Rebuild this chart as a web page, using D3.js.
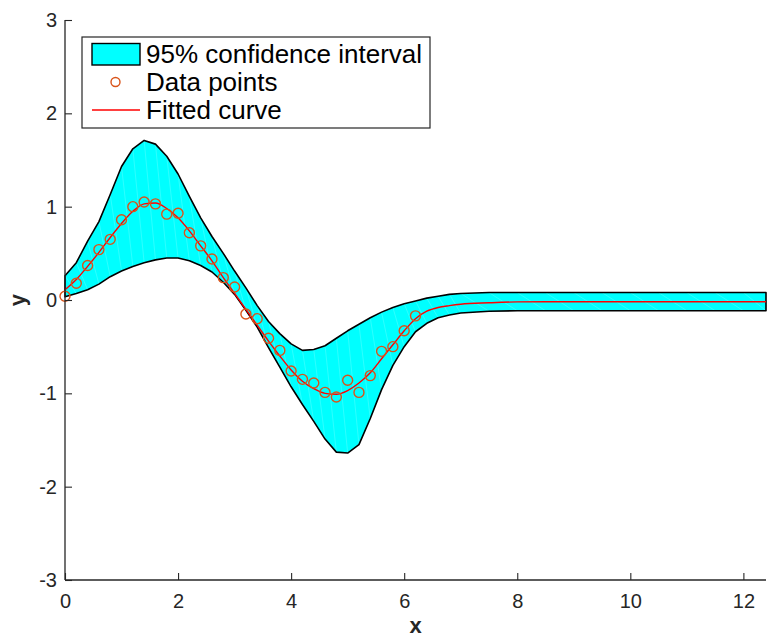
<!DOCTYPE html>
<html><head><meta charset="utf-8">
<script src="https://cdn.jsdelivr.net/npm/d3@7"></script>
<style>body{margin:0;background:#fff}svg{display:block}</style>
</head><body>
<script>
// ---- data ----
const xGrid = [0,0.2,0.4,0.6,0.8,1.0,1.2,1.4,1.6,1.8,2.0,2.2,2.4,2.6,2.8,3.0,3.2,3.4,3.6,3.8,4.0,4.2,4.4,4.6,4.8,5.0,5.2,5.4,5.6,5.8,6.0,6.2,6.4,6.6,6.8,7.0,7.5,8.0,8.5,9.0,9.5,10.0,10.5,11.0,11.5,12.0,12.4];
const upperCI = [0.26,0.40,0.63,0.84,1.13,1.43,1.62,1.71,1.67,1.54,1.35,1.11,0.88,0.68,0.50,0.31,0.13,-0.06,-0.23,-0.36,-0.47,-0.54,-0.53,-0.49,-0.41,-0.33,-0.26,-0.19,-0.13,-0.08,-0.04,-0.01,0.02,0.04,0.06,0.07,0.08,0.08,0.08,0.08,0.08,0.08,0.08,0.08,0.08,0.08,0.08];
const lowerCI = [0.035,0.07,0.11,0.17,0.25,0.31,0.36,0.40,0.43,0.45,0.45,0.42,0.37,0.30,0.19,0.06,-0.11,-0.29,-0.51,-0.72,-0.93,-1.12,-1.30,-1.49,-1.63,-1.64,-1.55,-1.27,-0.96,-0.70,-0.50,-0.34,-0.25,-0.19,-0.16,-0.14,-0.12,-0.115,-0.115,-0.115,-0.115,-0.115,-0.115,-0.115,-0.115,-0.115,-0.115];
const fitY = [0.11,0.22,0.36,0.51,0.67,0.82,0.95,1.03,1.04,0.98,0.88,0.74,0.58,0.42,0.24,0.07,-0.10,-0.27,-0.44,-0.60,-0.75,-0.87,-0.95,-1.00,-1.01,-0.97,-0.89,-0.78,-0.63,-0.48,-0.33,-0.20,-0.12,-0.08,-0.06,-0.045,-0.03,-0.02,-0.018,-0.018,-0.018,-0.018,-0.018,-0.018,-0.018,-0.018,-0.018];
const dataX = [0,0.2,0.4,0.6,0.8,1.0,1.2,1.4,1.6,1.8,2.0,2.2,2.4,2.6,2.8,3.0,3.2,3.4,3.6,3.8,4.0,4.2,4.4,4.6,4.8,5.0,5.2,5.4,5.6,5.8,6.0,6.2];
const dataY = [0.04,0.18,0.37,0.54,0.65,0.86,1.00,1.05,1.03,0.92,0.93,0.72,0.58,0.44,0.24,0.14,-0.15,-0.20,-0.41,-0.54,-0.76,-0.85,-0.89,-0.99,-1.04,-0.86,-0.99,-0.81,-0.55,-0.50,-0.33,-0.17];
const xTicks = [0,2,4,6,8,10,12];
const yTicks = [-3,-2,-1,0,1,2,3];
const legendLabels = ["95% confidence interval","Data points","Fitted curve"];

// ---- layout ----
const W = 771, H = 639;
const svg = d3.select("body").append("svg").attr("width", W).attr("height", H)
  .style("font-family", "'Liberation Sans', Arial, Helvetica, sans-serif");
const x = d3.scaleLinear().domain([0, 12.4]).range([65, 766]);
const y = d3.scaleLinear().domain([-3, 3]).range([580, 20]);

const band = xGrid.map((d, i) => ({x: d, lo: lowerCI[i], hi: upperCI[i], f: fitY[i]}));

// band
const area = d3.area().x(d => x(d.x)).y0(d => y(d.lo)).y1(d => y(d.hi));
svg.append("path").datum(band).attr("d", area).attr("fill", "#00ffff").attr("stroke", "none");
// faint triangulation artifacts
const tri = svg.append("g").attr("stroke", "#ffffff").attr("stroke-opacity", 0.3).attr("stroke-width", 0.6);
for (let i = 0; i < band.length - 1; i++) {
  tri.append("line").attr("x1", x(band[i].x)).attr("y1", y(band[i].hi))
     .attr("x2", x(band[i + 1].x)).attr("y2", y(band[i + 1].lo));
}
// band edge (closed polygon)
const poly = band.map(d => [x(d.x), y(d.hi)]).concat(band.slice().reverse().map(d => [x(d.x), y(d.lo)]));
svg.append("path").attr("d", "M" + poly.join("L") + "Z").attr("fill", "none")
  .attr("stroke", "#000").attr("stroke-width", 1.6).attr("stroke-linejoin", "round");

// fitted curve
svg.append("path").datum(band)
  .attr("d", d3.line().x(d => x(d.x)).y(d => y(d.f)).curve(d3.curveMonotoneX))
  .attr("fill", "none").attr("stroke", "#ff0000").attr("stroke-width", 1.4);

// data points
svg.append("g").selectAll("circle").data(dataX).join("circle")
  .attr("cx", (d) => x(d)).attr("cy", (d, i) => y(dataY[i])).attr("r", 5)
  .attr("fill", "none").attr("stroke", "#d95319").attr("stroke-width", 1.4);

// axes
const axCol = "#262626";
const fmt = d => String(d);  // plain hyphen-minus like the reference
const xAxis = svg.append("g").attr("transform", "translate(0,580)")
  .call(d3.axisBottom(x).tickValues(xTicks).tickSize(-7).tickPadding(14).tickFormat(fmt));
const yAxis = svg.append("g").attr("transform", "translate(65,0)")
  .call(d3.axisLeft(y).tickValues(yTicks).tickSize(-7).tickPadding(8).tickFormat(fmt));
[xAxis, yAxis].forEach(a => {
  a.select(".domain").remove();
  a.selectAll(".tick line").attr("stroke", axCol).attr("stroke-width", 1.1);
  a.selectAll(".tick text").attr("fill", axCol).attr("font-size", 20).attr("font-family", "'Liberation Sans', Arial, sans-serif");
});
svg.append("line").attr("x1", 65).attr("x2", 766).attr("y1", 580).attr("y2", 580).attr("stroke", axCol).attr("stroke-width", 1.3);
svg.append("line").attr("x1", 65).attr("x2", 65).attr("y1", 20).attr("y2", 580).attr("stroke", axCol).attr("stroke-width", 1.3);

// axis labels
svg.append("text").attr("x", x(6.2)).attr("y", 633).attr("text-anchor", "middle")
  .attr("font-size", 22).attr("font-weight", "bold").attr("fill", axCol).text("x");
svg.append("text").attr("transform", "translate(25,300) rotate(-90)").attr("text-anchor", "middle")
  .attr("font-size", 22).attr("font-weight", "bold").attr("fill", axCol).text("y");

// legend
const lg = svg.append("g");
lg.append("rect").attr("x", 82).attr("y", 37).attr("width", 348).attr("height", 91)
  .attr("fill", "#fff").attr("stroke", axCol).attr("stroke-width", 1.2);
lg.append("rect").attr("x", 92).attr("y", 43.5).attr("width", 48).attr("height", 21.5)
  .attr("fill", "#00ffff").attr("stroke", "#000").attr("stroke-width", 1.4);
lg.append("circle").attr("cx", 115.5).attr("cy", 82).attr("r", 4.5)
  .attr("fill", "none").attr("stroke", "#d95319").attr("stroke-width", 1.4);
lg.append("line").attr("x1", 92).attr("x2", 140).attr("y1", 110).attr("y2", 110)
  .attr("stroke", "#ff0000").attr("stroke-width", 1.4);
lg.selectAll("text.l").data(legendLabels).join("text").attr("class", "l")
  .attr("x", 146).attr("y", (d, i) => 63 + i * 28).attr("font-size", 26).attr("fill", "#000").text(d => d);
</script>
</body></html>
